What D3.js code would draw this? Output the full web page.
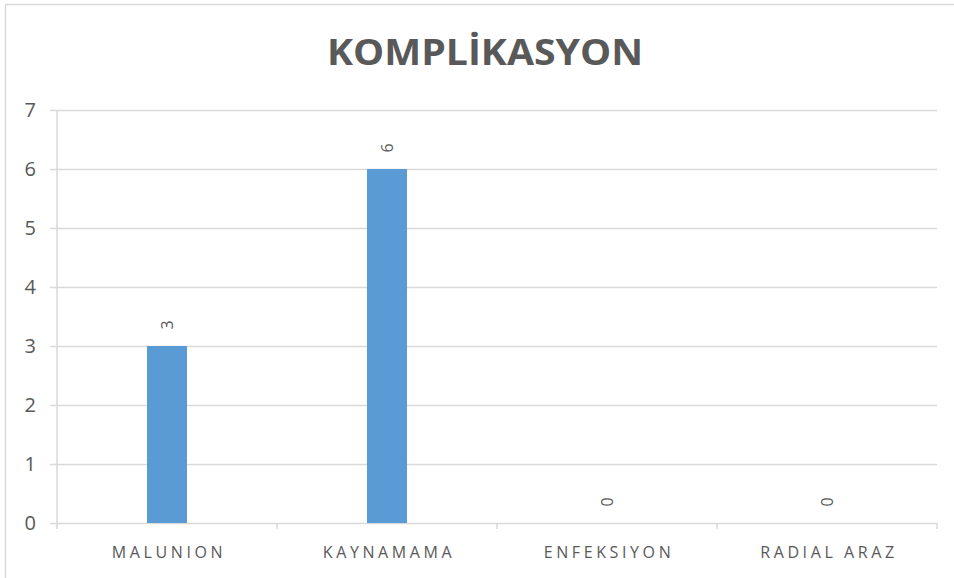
<!DOCTYPE html>
<html>
<head>
<meta charset="utf-8">
<script src="https://cdn.jsdelivr.net/npm/d3@7"></script>
<style>
  body { margin: 0; background: #fff; }
  text { font-family: "Open Sans", "Liberation Sans", sans-serif; }
</style>
</head>
<body>
<div id="chart"></div>
<script>
// data
const categories = ["MALUNION", "KAYNAMAMA", "ENFEKSIYON", "RADIAL ARAZ"];
const values = [3, 6, 0, 0];
const yTicks = [0, 1, 2, 3, 4, 5, 6, 7];
const chartTitle = "KOMPLİKASYON";

const width = 954, height = 578;
const margin = {left: 57, right: 17, top: 110, bottom: 55};

const svg = d3.select("#chart").append("svg").attr("width", width).attr("height", height);

// chart border
svg.append("rect").attr("x", 5.5).attr("y", 4.5).attr("width", 1000).attr("height", 1000)
  .attr("fill", "none").attr("stroke", "#d9d9d9").attr("stroke-width", 1.5);

const x = d3.scaleBand().domain(categories).range([margin.left, width - margin.right]);
const y = d3.scaleLinear().domain([0, 7]).range([height - margin.bottom, margin.top]);

// gridlines + y labels
const yAxis = svg.append("g").attr("transform", "translate(" + margin.left + ",0)")
  .call(d3.axisLeft(y).tickValues(yTicks).tickFormat(d3.format("d"))
    .tickSize(-(width - margin.left - margin.right)).tickSizeOuter(0).tickPadding(21));
yAxis.select(".domain").remove();
yAxis.selectAll(".tick line").attr("stroke", "#d9d9d9").attr("stroke-width", 1.5).attr("x1", -7);
yAxis.selectAll(".tick text").attr("fill", "#595959").attr("font-size", 20);

// vertical axis line
svg.append("line").attr("x1", margin.left).attr("x2", margin.left)
  .attr("y1", y(7)).attr("y2", y(0) + 6).attr("stroke", "#d9d9d9").attr("stroke-width", 1.5);

// category boundary ticks
const bounds = categories.map(c => x(c)).concat([x(categories[categories.length - 1]) + x.bandwidth()]);
svg.append("g").selectAll("line").data(bounds.slice(1)).enter().append("line")
  .attr("x1", d => d).attr("x2", d => d).attr("y1", y(0)).attr("y2", y(0) + 6)
  .attr("stroke", "#d9d9d9").attr("stroke-width", 1.5);

// bars
const barW = 40;
svg.append("g").selectAll("rect").data(values).enter().append("rect")
  .attr("x", (d, i) => x(categories[i]) + x.bandwidth() / 2 - barW / 2)
  .attr("y", d => y(d)).attr("width", barW).attr("height", d => y(0) - y(d))
  .attr("fill", "#5b9bd5");

// data labels, rotated
svg.append("g").selectAll("text").data(values).enter().append("text")
  .attr("transform", (d, i) => "translate(" + (x(categories[i]) + x.bandwidth() / 2) + "," + (y(d) - 21) + ") rotate(-90)")
  .attr("text-anchor", "middle").attr("dy", "0.35em")
  .attr("fill", "#595959").attr("font-size", 16).text(d => d);

// category labels
svg.append("g").selectAll("text").data(categories).enter().append("text")
  .attr("x", d => x(d) + x.bandwidth() / 2 + 2).attr("y", y(0) + 35)
  .attr("text-anchor", "middle").attr("fill", "#595959").attr("font-size", 16)
  .attr("letter-spacing", 3.6).text(d => d);

// title
svg.append("text").attr("x", 485).attr("y", 65).attr("text-anchor", "middle")
  .attr("fill", "#595959").attr("font-size", 36).attr("font-weight", "bold")
  .attr("textLength", 316).attr("lengthAdjust", "spacingAndGlyphs")
  .text(chartTitle);
</script>
</body>
</html>
